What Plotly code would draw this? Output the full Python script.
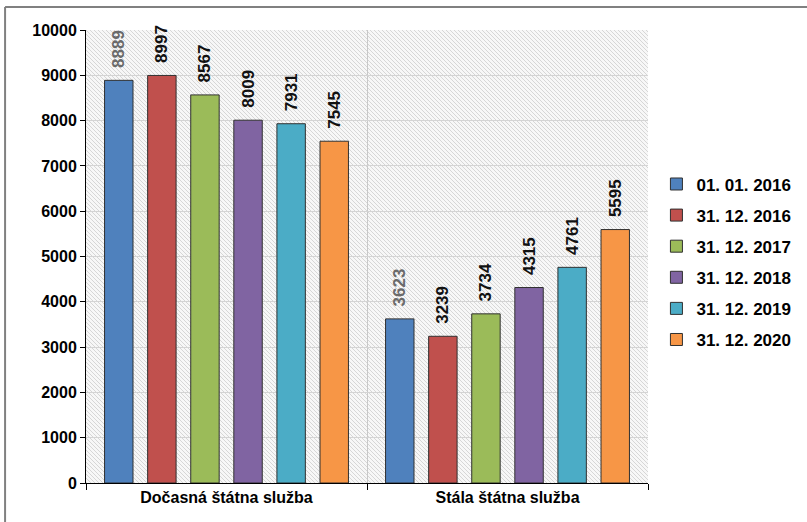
import base64
import plotly.graph_objects as go

categories = ["Dočasná štátna služba", "Stála štátna služba"]
series_names = ["01. 01. 2016", "31. 12. 2016", "31. 12. 2017",
                "31. 12. 2018", "31. 12. 2019", "31. 12. 2020"]
values = [
    [8889, 3623],
    [8997, 3239],
    [8567, 3734],
    [8009, 4315],
    [7931, 4761],
    [7545, 5595],
]
colors = ["#4F81BD", "#C0504D", "#9BBB59", "#8064A2", "#4BACC6", "#F79646"]
label_colors = ["#6a6a6a", "#111111", "#111111", "#111111", "#111111", "#111111"]

FONT = "Liberation Sans, Arial, sans-serif"
PAD = "\u00a0\u00a0"  # small gap between bar top and rotated label

# diagonal hatch for the plot background (like the Excel pattern fill)
svg = ('<svg xmlns="http://www.w3.org/2000/svg" width="562" height="453">'
       '<defs><pattern id="p" width="4" height="4" patternUnits="userSpaceOnUse">'
       '<path d="M-1,-1 L5,5 M-1,3 L1,5 M3,-1 L5,1" stroke="#d6d6d6" stroke-width="1"/>'
       '</pattern></defs>'
       '<rect width="100%" height="100%" fill="#f7f7f7"/>'
       '<rect width="100%" height="100%" fill="url(#p)"/></svg>')
hatch = "data:image/svg+xml;base64," + base64.b64encode(svg.encode()).decode()

fig = go.Figure()
for name, vals, col, lc in zip(series_names, values, colors, label_colors):
    fig.add_trace(go.Bar(
        x=categories, y=vals, name=name, legendgroup=name,
        marker=dict(color=col, line=dict(color="#303030", width=1)),
        text=[PAD + str(v) for v in vals], textposition="outside", textangle=-90,
        textfont=dict(family=FONT, size=17, color=lc, weight="bold"),
        cliponaxis=False,
    ))

fig.update_layout(
    width=807, height=522,
    barmode="group", bargap=0.08, bargroupgap=0.34,
    paper_bgcolor="white", plot_bgcolor="white",
    margin=dict(l=86, r=159, t=30, b=39, autoexpand=False),
    font=dict(family=FONT, size=16, color="black"),
    uniformtext=dict(minsize=17, mode="show"),
    legend=dict(x=1.015, y=0.488, yanchor="middle", xanchor="left",
                font=dict(family=FONT, size=17, color="black", weight="bold"),
                itemwidth=30, tracegroupgap=6, bgcolor="rgba(0,0,0,0)"),
    images=[dict(source=hatch, xref="paper", yref="paper", x=0, y=1,
                 sizex=1, sizey=1, sizing="stretch", layer="below")],
    shapes=[
        dict(type="line", xref="paper", yref="paper", x0=-0.144, x1=1.3,
             y0=1.0508, y1=1.0508, line=dict(color="#808080", width=2)),
        dict(type="line", xref="paper", yref="paper", x0=-0.144, x1=-0.144,
             y0=-0.1, y1=1.0508, line=dict(color="#808080", width=2)),
    ],
)
fig.update_xaxes(
    tickson="boundaries", ticks="outside", ticklen=6, tickcolor="black",
    showline=True, linecolor="black", linewidth=1,
    showgrid=True, gridcolor="#c8c8c8", gridwidth=1,
    tickfont=dict(family=FONT, size=16, color="black", weight="bold"),
)
fig.update_yaxes(
    range=[0, 10000], dtick=1000, tickformat="d", ticks="outside", ticklen=5,
    tickcolor="black", showline=True, linecolor="black", linewidth=1,
    showgrid=True, gridcolor="#d4d4d4", gridwidth=1,
    tickfont=dict(family=FONT, size=16, color="black", weight="bold"),
    zeroline=False,
)

# drop the default page margin so the figure sits at the window origin
fig.write_html("out.html", config={"displayModeBar": False},
               post_script="document.body.style.margin='0';")
